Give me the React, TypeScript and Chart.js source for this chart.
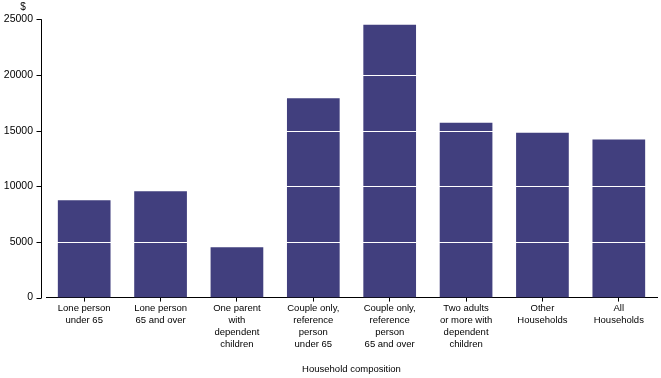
import React, { useEffect, useRef } from "react";
import { Chart, registerables } from "chart.js";

Chart.register(...registerables);

const categories: string[][] = [
  ["Lone person", "under 65"],
  ["Lone person", "65 and over"],
  ["One parent", "with", "dependent", "children"],
  ["Couple only,", "reference", "person", "under 65"],
  ["Couple only,", "reference", "person", "65 and over"],
  ["Two adults", "or more with", "dependent", "children"],
  ["Other", "Households"],
  ["All", "Households"],
];
const values: number[] = [8750, 9550, 4520, 17900, 24500, 15700, 14800, 14200];
const yMin = 0;
const yMax = 25000;
const yStep = 5000;
const xTitle = "Household composition";
const yUnit = "$";

const BAR = "#413f7e";
const FONT = "'Liberation Sans', Arial, sans-serif";

const overlayPlugin = {
  id: "overlay",
  afterDatasetsDraw(chart: any) {
    const { ctx, chartArea } = chart;
    const y = chart.scales.y;
    ctx.save();
    ctx.strokeStyle = "#ffffff";
    ctx.lineWidth = 1;
    for (let v = yMin + yStep; v < yMax; v += yStep) {
      const py = Math.round(y.getPixelForValue(v)) + 0.5;
      ctx.beginPath();
      ctx.moveTo(chartArea.left, py);
      ctx.lineTo(chartArea.right, py);
      ctx.stroke();
    }
    ctx.restore();
  },
  afterDraw(chart: any) {
    const { ctx, chartArea } = chart;
    const y = chart.scales.y;
    const ax = Math.round(chartArea.left - 5) + 0.5;
    ctx.save();
    ctx.strokeStyle = "#000000";
    ctx.lineWidth = 1;
    ctx.beginPath();
    ctx.moveTo(ax, y.getPixelForValue(yMax));
    ctx.lineTo(ax, y.getPixelForValue(yMin) + 0.5);
    for (let v = yMin; v <= yMax; v += yStep) {
      const py = Math.round(y.getPixelForValue(v)) + 0.5;
      ctx.moveTo(ax - 5, py);
      ctx.lineTo(ax, py);
    }
    ctx.stroke();
    ctx.fillStyle = "#000000";
    ctx.font = `10px ${FONT}`;
    ctx.textAlign = "center";
    ctx.textBaseline = "middle";
    ctx.fillText(yUnit, chartArea.left - 23, y.getPixelForValue(yMax) - 12);
    ctx.restore();
  },
};

export default function App() {
  const ref = useRef<HTMLCanvasElement | null>(null);
  useEffect(() => {
    if (!ref.current) return;
    const chart = new Chart(ref.current, {
      type: "bar",
      data: {
        labels: categories,
        datasets: [
          {
            data: values,
            backgroundColor: BAR,
            borderWidth: 0,
            categoryPercentage: 1,
            barPercentage: 0.69,
          },
        ],
      },
      options: {
        animation: false,
        responsive: true,
        maintainAspectRatio: false,
        layout: { padding: { top: 14, right: 4, bottom: 3, left: 3 } },
        plugins: {
          legend: { display: false },
          tooltip: { enabled: false },
        },
        scales: {
          x: {
            offset: true,
            grid: {
              display: true,
              drawOnChartArea: false,
              offset: false,
              tickLength: 4,
              color: "#000000",
            },
            border: { display: true, color: "#000000", width: 1 },
            ticks: {
              color: "#000000",
              font: { family: FONT, size: 9.5, lineHeight: "12px" },
              padding: 1,
              maxRotation: 0,
              autoSkip: false,
            },
            title: {
              display: true,
              text: xTitle,
              color: "#000000",
              font: { family: FONT, size: 9.5 },
              padding: { top: 12, bottom: 0 },
            },
          },
          y: {
            min: yMin,
            max: yMax,
            grid: { display: false, drawTicks: false },
            border: { display: false },
            afterFit: (scale: any) => {
              scale.width = 43;
            },
            ticks: {
              stepSize: yStep,
              color: "#000000",
              font: { family: FONT, size: 10.5 },
              padding: 13,
              callback: (v: any) => String(v),
            },
          },
        },
      },
      plugins: [overlayPlugin],
    });
    return () => chart.destroy();
  }, []);
  return (
    <div style={{ position: "absolute", left: 0, top: 0, width: 661, height: 378 }}>
      <canvas ref={ref} />
    </div>
  );
}
